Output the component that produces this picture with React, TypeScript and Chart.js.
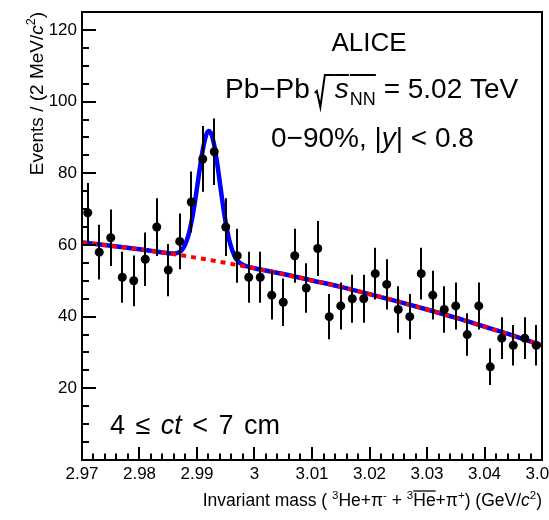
import React, { useEffect, useRef } from "react";
import { Chart, registerables } from "chart.js";

Chart.register(...registerables);

const FONT = '"Liberation Sans", Arial, Helvetica, sans-serif';

// ---- data ----
const binCenters = [
  2.971, 2.973, 2.975, 2.977, 2.979, 2.981, 2.983, 2.985, 2.987, 2.989,
  2.991, 2.993, 2.995, 2.997, 2.999, 3.001, 3.003, 3.005, 3.007, 3.009,
  3.011, 3.013, 3.015, 3.017, 3.019, 3.021, 3.023, 3.025, 3.027, 3.029,
  3.031, 3.033, 3.035, 3.037, 3.039, 3.041, 3.043, 3.045, 3.047, 3.049,
];
const counts = [
  69, 58, 62, 51, 50, 56, 65, 53, 61, 72,
  84, 86, 65, 57, 51, 51, 46, 44, 57, 48,
  59, 40, 43, 45, 45, 52, 49, 42, 40, 52,
  46, 42, 43, 35, 43, 26, 34, 32, 34, 32,
];
const errors = [
  8.31, 7.62, 7.87, 7.14, 7.07, 7.48, 8.06, 7.28, 7.81, 8.49,
  9.17, 9.27, 8.06, 7.55, 7.14, 7.14, 6.78, 6.63, 7.55, 6.93,
  7.68, 6.32, 6.56, 6.71, 6.71, 7.21, 7.0, 6.48, 6.32, 7.21,
  6.78, 6.48, 6.56, 5.92, 6.56, 5.1, 5.83, 5.66, 5.83, 5.66,
];
// total fit (signal + background)
const fitMass = [
  2.97, 2.975, 2.98, 2.985, 2.986, 2.987, 2.9875, 2.988, 2.9885, 2.989,
  2.9895, 2.99, 2.9905, 2.991, 2.9915, 2.992, 2.9925, 2.993, 2.9935, 2.994,
  2.9945, 2.995, 2.9955, 2.996, 2.9965, 2.997, 2.998, 2.999, 3.0, 3.005,
  3.01, 3.015, 3.02, 3.025, 3.03, 3.035, 3.04, 3.045, 3.05,
];
const fitValues = [
  60.7, 59.8, 58.8, 57.7, 57.6, 58.1, 58.9, 60.4, 62.7, 66.1,
  70.6, 75.9, 81.5, 86.5, 90.2, 91.8, 90.9, 87.8, 82.9, 77.1,
  71.3, 66.2, 62.1, 59.1, 57.0, 55.7, 54.4, 53.9, 53.5, 51.9,
  50.1, 48.3, 46.3, 44.2, 42.0, 39.7, 37.2, 34.7, 32.0,
];
// background only (red dashed)
const bkgMass = [2.97, 2.98, 2.99, 3.0, 3.01, 3.02, 3.03, 3.04, 3.05];
const bkgValues = [60.7, 58.8, 56.4, 53.5, 50.1, 46.3, 42.0, 37.2, 32.0];

const xTicks = [2.97, 2.98, 2.99, 3.0, 3.01, 3.02, 3.03, 3.04, 3.05];
const xTickLabels = ["2.97", "2.98", "2.99", "3", "3.01", "3.02", "3.03", "3.04", "3.05"];
const yTicks = [20, 40, 60, 80, 100, 120];
const yTickLabels = ["20", "40", "60", "80", "100", "120"];

const X_MIN = 2.97;
const X_MAX = 3.05;
const Y_MIN = 0;
const Y_MAX = 125;

// ---- rich text helper ----
type Run = {
  t?: string;
  size: number;
  italic?: boolean;
  dy?: number;
  gap?: number;
  over?: number;
  rad?: number;
};

function fontOf(r: Run) {
  return `${r.italic ? "italic " : ""}${r.size}px ${FONT}`;
}

function drawRuns(
  ctx: CanvasRenderingContext2D,
  runs: Run[],
  x: number,
  y: number,
  align: "left" | "center" | "right"
) {
  const widths = runs.map((r) => {
    if (r.rad) return r.rad;
    ctx.font = fontOf(r);
    return ctx.measureText(r.t || "").width;
  });
  let total = 0;
  runs.forEach((r, i) => (total += (r.gap || 0) + widths[i]));
  let cx = align === "left" ? x : align === "right" ? x - total : x - total / 2;
  ctx.textAlign = "left";
  ctx.textBaseline = "alphabetic";
  ctx.fillStyle = "#000";
  ctx.strokeStyle = "#000";
  runs.forEach((r, i) => {
    cx += r.gap || 0;
    const w = widths[i];
    if (r.rad) {
      ctx.lineWidth = 2;
      ctx.beginPath();
      ctx.moveTo(cx, y - 5);
      ctx.lineTo(cx + 2, y - 7);
      ctx.lineTo(cx + 5.5, y + 9);
      ctx.lineTo(cx + 10, y - 23);
      ctx.lineTo(cx + w, y - 23);
      ctx.stroke();
    } else {
      ctx.font = fontOf(r);
      ctx.fillText(r.t || "", cx, y + (r.dy || 0));
      if (r.over !== undefined) {
        ctx.lineWidth = r.over < -20 ? 2 : 1.3;
        ctx.beginPath();
        ctx.moveTo(cx, y + r.over);
        ctx.lineTo(cx + w, y + r.over);
        ctx.stroke();
      }
    }
    cx += w;
  });
}

const decorPlugin = {
  id: "decor",
  beforeDatasetDraw(chart: any, args: any) {
    if (args.index !== 0) return;
    const ctx: CanvasRenderingContext2D = chart.ctx;
    const xs = chart.scales.x;
    const ys = chart.scales.y;
    ctx.save();
    ctx.strokeStyle = "#000";
    ctx.lineWidth = 2;
    binCenters.forEach((m, i) => {
      const px = Math.round(xs.getPixelForValue(m));
      ctx.beginPath();
      ctx.moveTo(px, ys.getPixelForValue(counts[i] + errors[i]));
      ctx.lineTo(px, ys.getPixelForValue(counts[i] - errors[i]));
      ctx.stroke();
    });
    ctx.restore();
  },
  afterDraw(chart: any) {
    const ctx: CanvasRenderingContext2D = chart.ctx;
    const xs = chart.scales.x;
    const ys = chart.scales.y;
    const a = chart.chartArea;
    ctx.save();
    ctx.strokeStyle = "#000";
    ctx.lineWidth = 2;
    // ticks (inside frame)
    const nx = Math.round((X_MAX - X_MIN) / 0.002);
    for (let k = 1; k < nx; k++) {
      const v = X_MIN + k * 0.002;
      const px = Math.round(xs.getPixelForValue(v));
      const len = k % 5 === 0 ? 13 : 6.5;
      ctx.beginPath();
      ctx.moveTo(px, a.bottom);
      ctx.lineTo(px, a.bottom - len);
      ctx.stroke();
    }
    for (let v = 5; v < Y_MAX; v += 5) {
      const py = Math.round(ys.getPixelForValue(v));
      const len = v % 20 === 0 ? 14 : 7;
      ctx.beginPath();
      ctx.moveTo(a.left, py);
      ctx.lineTo(a.left + len, py);
      ctx.stroke();
    }
    // frame
    ctx.strokeRect(a.left, a.top, a.right - a.left, a.bottom - a.top);

    // x axis title
    const S = 17.5;
    const s2 = 11.5;
    drawRuns(
      ctx,
      [
        { t: "Invariant mass ( ", size: S },
        { t: "3", size: s2, dy: -7 },
        { t: "He+π", size: S },
        { t: "-", size: s2, dy: -7 },
        { t: " + ", size: S },
        { t: "3", size: s2, dy: -7 },
        { t: "He", size: S, over: -15 },
        { t: "+π", size: S },
        { t: "+", size: s2, dy: -7 },
        { t: ") (GeV/", size: S },
        { t: "c", size: S, italic: true },
        { t: "2", size: s2, dy: -7 },
        { t: ")", size: S },
      ],
      a.right,
      506,
      "right"
    );

    // y axis title (rotated)
    ctx.save();
    ctx.translate(43, a.top);
    ctx.rotate(-Math.PI / 2);
    drawRuns(
      ctx,
      [
        { t: "Events / (2 MeV/", size: 19 },
        { t: "c", size: 19, italic: true },
        { t: "2", size: 12.5, dy: -8 },
        { t: ")", size: 19 },
      ],
      0,
      0,
      "right"
    );
    ctx.restore();

    // annotations
    drawRuns(ctx, [{ t: "ALICE", size: 26 }], 369, 51, "center");
    drawRuns(
      ctx,
      [
        { t: "Pb−Pb", size: 28 },
        { rad: 20, size: 28, gap: 5 },
        { t: "s", size: 28, italic: true, over: -23 },
        { t: "NN", size: 18, dy: 7, gap: 1, over: -23 },
        { t: " = 5.02 TeV", size: 28 },
      ],
      225,
      98,
      "left"
    );
    drawRuns(
      ctx,
      [
        { t: "0−90%, |", size: 28 },
        { t: "y", size: 28, italic: true },
        { t: "| < 0.8", size: 28 },
      ],
      271,
      147,
      "left"
    );
    drawRuns(
      ctx,
      [
        { t: "4", size: 27 },
        { t: "≤", size: 27, gap: 10.5 },
        { t: "ct", size: 27, italic: true, gap: 10.5 },
        { t: "<", size: 27, gap: 10.5 },
        { t: "7", size: 27, gap: 10.5 },
        { t: "cm", size: 27, gap: 10.5 },
      ],
      110,
      434,
      "left"
    );
    ctx.restore();
  },
};

export default function App() {
  const ref = useRef<HTMLCanvasElement | null>(null);
  useEffect(() => {
    if (!ref.current) return;
    const chart = new Chart(ref.current, {
      type: "scatter",
      data: {
        datasets: [
          {
            type: "scatter",
            data: binCenters.map((x, i) => ({ x, y: counts[i] })),
            pointRadius: 4.5,
            pointBackgroundColor: "#000",
            pointBorderColor: "#000",
            pointBorderWidth: 0,
            showLine: false,
          } as any,
          {
            type: "line",
            data: bkgMass.map((x, i) => ({ x, y: bkgValues[i] })),
            borderColor: "#ff0000",
            borderWidth: 4,
            borderDash: [5, 5],
            pointRadius: 0,
            cubicInterpolationMode: "monotone",
            fill: false,
          } as any,
          {
            type: "line",
            data: fitMass.map((x, i) => ({ x, y: fitValues[i] })),
            borderColor: "#0000ff",
            borderWidth: 4.5,
            pointRadius: 0,
            cubicInterpolationMode: "monotone",
            fill: false,
          } as any,
        ],
      },
      options: {
        responsive: false,
        devicePixelRatio: 1,
        animation: false,
        events: [],
        layout: { padding: { top: 12, right: 7, left: 0, bottom: 0 } },
        plugins: { legend: { display: false }, tooltip: { enabled: false } },
        scales: {
          x: {
            type: "linear",
            min: X_MIN,
            max: X_MAX,
            grid: { display: false, drawTicks: false },
            border: { display: false },
            afterBuildTicks: (s: any) => {
              s.ticks = xTicks.map((v) => ({ value: v }));
            },
            afterFit: (s: any) => {
              s.height = 60;
              s.paddingLeft = 0;
              s.paddingRight = 0;
            },
            ticks: {
              autoSkip: false,
              maxRotation: 0,
              minRotation: 0,
              padding: 4,
              color: "#000",
              font: { family: FONT, size: 17 },
              callback: (_v: any, i: number) => xTickLabels[i],
            },
          },
          y: {
            type: "linear",
            min: Y_MIN,
            max: Y_MAX,
            grid: { display: false, drawTicks: false },
            border: { display: false },
            afterBuildTicks: (s: any) => {
              s.ticks = yTicks.map((v) => ({ value: v }));
            },
            afterFit: (s: any) => {
              s.width = 82;
              s.paddingTop = 0;
              s.paddingBottom = 0;
            },
            ticks: {
              autoSkip: false,
              padding: 5,
              color: "#000",
              font: { family: FONT, size: 17 },
              callback: (_v: any, i: number) => yTickLabels[i],
            },
          },
        },
      },
      plugins: [decorPlugin],
    });
    return () => chart.destroy();
  }, []);
  return (
    <div
      style={{
        position: "fixed",
        left: 0,
        top: 0,
        width: 549,
        height: 520,
        background: "#fff",
      }}
    >
      <canvas ref={ref} width={549} height={520} style={{ display: "block" }} />
    </div>
  );
}
